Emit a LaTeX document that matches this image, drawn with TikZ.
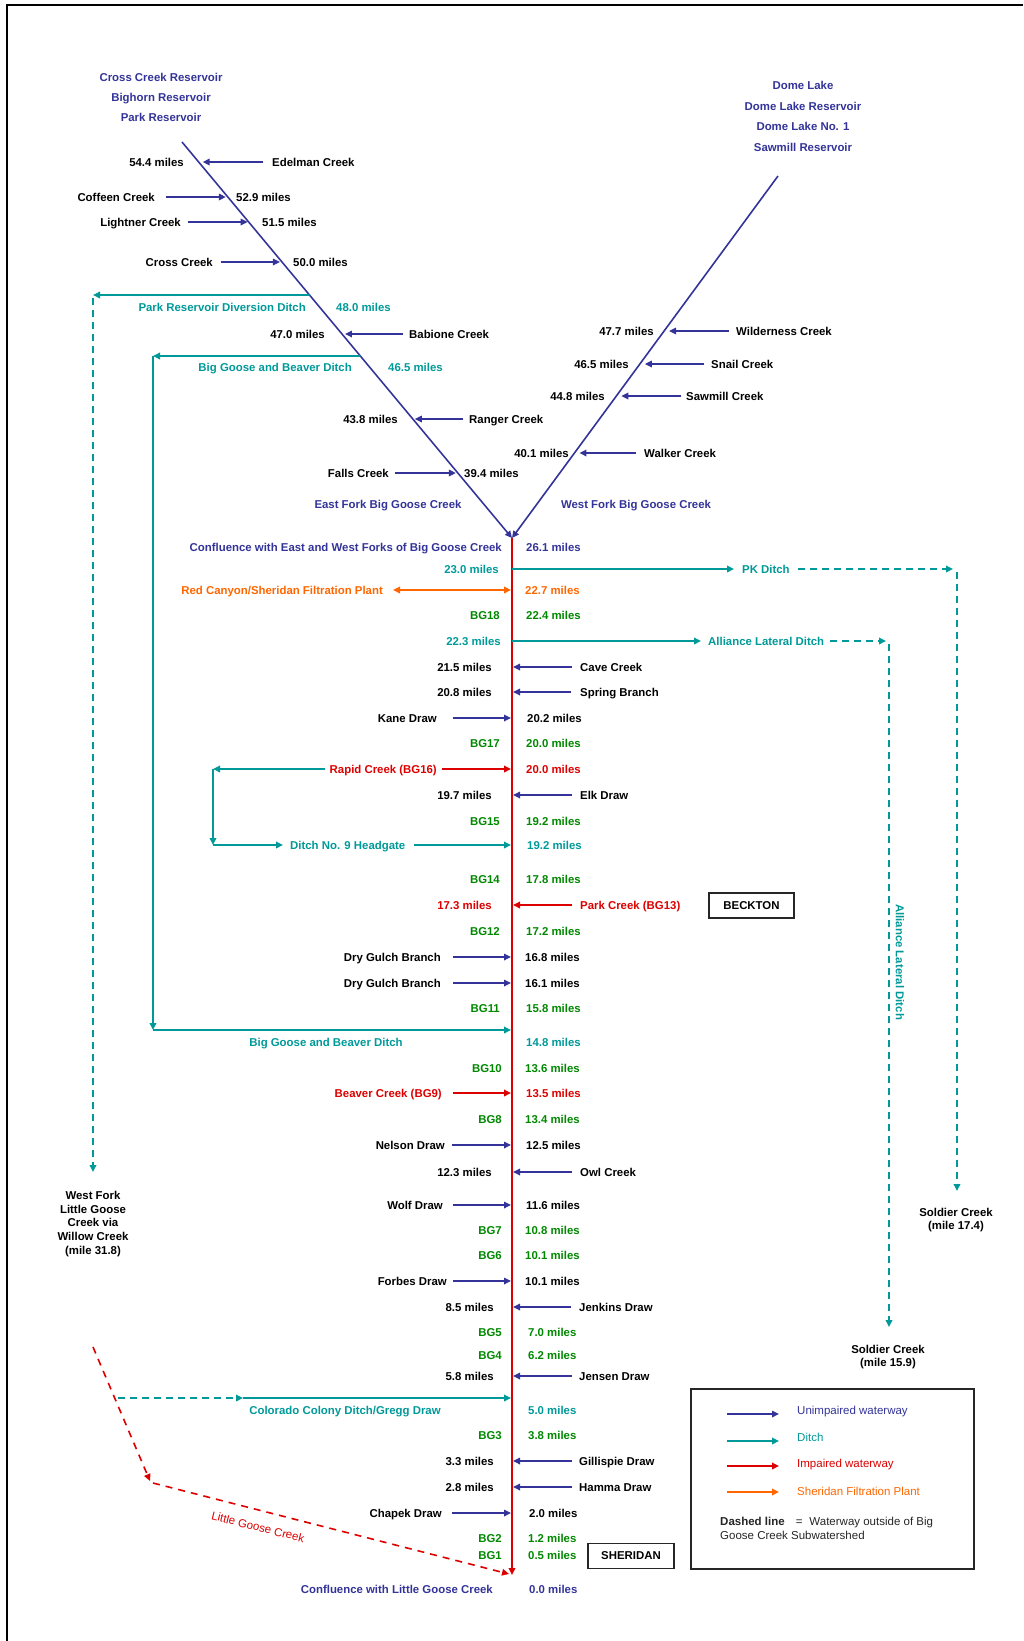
\documentclass[tikz,border=0pt]{standalone}
\usepackage{fontspec}
\setmainfont{Liberation Sans}
\usetikzlibrary{arrows.meta,calc}
\definecolor{rivblue}{RGB}{51,51,153}
\definecolor{ditchcol}{RGB}{0,153,153}
\definecolor{impred}{RGB}{221,0,0}
\definecolor{plantorg}{RGB}{255,102,0}
\definecolor{bggreen}{RGB}{0,136,0}
\newcommand\lblfont{\bfseries\fontsize{11.4}{13}\selectfont}
\newcommand\legfont{\fontsize{11.5}{13}\selectfont}
\begin{document}
\begin{tikzpicture}[x=1pt,y=-1pt,
  >={Triangle[length=7pt,width=6.5pt]},
  lab/.style={inner sep=0pt,font=\lblfont,text height=8.1pt,text depth=0pt},
  tblack/.style={lab,text=black},
  tblue/.style={lab,text=rivblue},
  tteal/.style={lab,text=ditchcol},
  tgreen/.style={lab,text=bggreen},
  tred/.style={lab,text=impred},
  torange/.style={lab,text=plantorg},
  river/.style={draw=rivblue,line width=1.6pt},
  trib/.style={river,->},
  ditchln/.style={draw=ditchcol,line width=1.8pt},
  ditch/.style={ditchln,->},
  ditchdash/.style={ditchln,->,dash pattern=on 7pt off 5pt},
  impaired/.style={draw=impred,line width=1.8pt,->},
  impdash/.style={draw=impred,line width=1.6pt,->,dash pattern=on 7pt off 6pt},
  plantln/.style={draw=plantorg,line width=1.8pt,<->},
  townbox/.style={draw=black!85,line width=1.3pt,inner sep=0pt,minimum height=25pt,font=\lblfont},
  multi/.style={inner sep=0pt,align=center,font=\bfseries\fontsize{11.4}{13.7}\selectfont},
]
\useasboundingbox (0,0) rectangle (1023,1641);
% frame
\coordinate (fbl) at (7,1641); \coordinate (ftl) at (7,5); \coordinate (ftr) at (1023,5);
\draw[line width=2pt] (fbl) -- (ftl) -- (ftr);

% headwater labels
\node[tblue] (r1) at (161,77) {Cross Creek Reservoir};
\node[tblue] (r2) at (161,97) {Bighorn Reservoir};
\node[tblue] (r3) at (161,117) {Park Reservoir};
\node[tblue] (d1) at (803,85) {Dome Lake};
\node[tblue] (d2) at (803,106) {Dome Lake Reservoir};
\node[tblue] (d3) at (803,126) {Dome Lake No. 1};
\node[tblue] (d4) at (803,147) {Sawmill Reservoir};

% forks
\coordinate (EFtop) at (182,142);
\coordinate (WFtop) at (778,176);
\coordinate (conf) at (512,538);
\coordinate (mend) at (512,1575);
\coordinate (ML) at (511,0);
\coordinate (MR) at (513,0);
\path (EFtop) -- (conf)
  coordinate[pos=0.0505] (e1) coordinate[pos=0.1389] (e2)
  coordinate[pos=0.2020] (e3) coordinate[pos=0.3030] (e4)
  coordinate[pos=0.3864] (e5) coordinate[pos=0.4848] (e6)
  coordinate[pos=0.5404] (e7) coordinate[pos=0.6995] (e8)
  coordinate[pos=0.8359] (e9);
\path (WFtop) -- (conf)
  coordinate[pos=0.4282] (w1) coordinate[pos=0.5193] (w2)
  coordinate[pos=0.6077] (w3) coordinate[pos=0.7652] (w4);

% main stem
\draw[impaired] (conf) -- (mend);
\draw[trib] (EFtop) -- (conf);
\draw[trib] (WFtop) -- (conf);

% East Fork
\node[tblack,anchor=west] (edel) at (272,162) {Edelman Creek};
\node[tblack,anchor=east] (m544) at (184,162) {54.4 miles};
\draw[trib,shorten >=4pt] ([xshift=-9pt]edel.west) -- (edel -| e1);
\node[tblack,anchor=east] (coff) at (155,197) {Coffeen Creek};
\node[tblack,anchor=west] (m529) at (236,197) {52.9 miles};
\draw[trib,shorten >=2pt] ([xshift=11pt]coff.east) -- (coff -| e2);
\node[tblack,anchor=east] (ligh) at (181,222) {Lightner Creek};
\node[tblack,anchor=west] (m515) at (262,222) {51.5 miles};
\draw[trib,shorten >=1pt] ([xshift=7pt]ligh.east) -- (ligh -| e3);
\node[tblack,anchor=east] (cros) at (213,262) {Cross Creek};
\node[tblack,anchor=west] (m500) at (293,262) {50.0 miles};
\draw[trib,shorten >=2pt] ([xshift=8pt]cros.east) -- (cros -| e4);
\node[tteal,anchor=east] (prdd) at (306,307) {Park Reservoir Diversion Ditch};
\node[tteal,anchor=west] (m480) at (336,307) {48.0 miles};
\coordinate (prddc) at (93,295);
\coordinate (prddt) at (93,1172);
\draw[ditch] (e5) -- (prddc);
\draw[ditchdash] ([yshift=-3pt]prddc) -- (prddt);
\node[tblack,anchor=west] (babi) at (409,334) {Babione Creek};
\node[tblack,anchor=east] (m470) at (325,334) {47.0 miles};
\draw[trib,shorten >=3pt] ([xshift=-6pt]babi.west) -- (babi -| e6);
\node[tteal,anchor=east] (bgbd1) at (352,367) {Big Goose and Beaver Ditch};
\node[tteal,anchor=west] (m465) at (388,367) {46.5 miles};
\coordinate (bgbdc) at (153,356);
\coordinate (bgbdd) at (153,1030);
\draw[ditch] (e7) -- (bgbdc);
\draw[ditch] (bgbdc) -- (bgbdd);
\draw[ditch] (bgbdd) -- (bgbdd -| ML);
\node[tblack,anchor=west] (rang) at (469,419) {Ranger Creek};
\node[tblack,anchor=east] (m438) at (398,419) {43.8 miles};
\draw[trib,shorten >=2pt] ([xshift=-6pt]rang.west) -- (rang -| e8);
\node[tblack,anchor=east] (fall) at (389,473) {Falls Creek};
\node[tblack,anchor=west] (m394) at (464,473) {39.4 miles};
\draw[trib,shorten >=2pt] ([xshift=6pt]fall.east) -- (fall -| e9);
\node[tblue] (efname) at (388,504) {East Fork Big Goose Creek};

% West Fork
\node[tblack,anchor=west] (wild) at (736,331) {Wilderness Creek};
\node[tblack,anchor=east] (m477) at (654,331) {47.7 miles};
\draw[trib,shorten >=5pt] ([xshift=-7pt]wild.west) -- (wild -| w1);
\node[tblack,anchor=west] (snai) at (711,364) {Snail Creek};
\node[tblack,anchor=east] (m465w) at (629,364) {46.5 miles};
\draw[trib,shorten >=5pt] ([xshift=-7pt]snai.west) -- (snai -| w2);
\node[tblack,anchor=west] (sawm) at (686,396) {Sawmill Creek};
\node[tblack,anchor=east] (m448) at (605,396) {44.8 miles};
\draw[trib,shorten >=5pt] ([xshift=-5pt]sawm.west) -- (sawm -| w3);
\node[tblack,anchor=west] (walk) at (644,453) {Walker Creek};
\node[tblack,anchor=east] (m401) at (569,453) {40.1 miles};
\draw[trib,shorten >=5pt] ([xshift=-8pt]walk.west) -- (walk -| w4);
\node[tblue] (wfname) at (636,504) {West Fork Big Goose Creek};

% Confluence
\node[tblue,anchor=east] (confl) at (502,547) {Confluence with East and West Forks of Big Goose Creek};
\node[tblue,anchor=west] (m261) at (526,547) {26.1 miles};

% PK Ditch
\node[tteal,anchor=east] (m230) at (499,569) {23.0 miles};
\node[tteal,anchor=west] (pk) at (742,569) {PK Ditch};
\coordinate (pkc) at (957,569);
\coordinate (pkt) at (957,1191);
\draw[ditch] (m230 -| conf) -- ([xshift=-8pt]pk.west);
\draw[ditchdash,shorten >=4pt] ([xshift=8pt]pk.east) -- (pkc);
\draw[ditchdash] ([yshift=-3pt]pkc) -- (pkt);
\node[multi] (sold1) at (956,1220) {Soldier Creek\\(mile 17.4)};

% Filtration plant
\node[torange,anchor=east] (rcsf) at (383,590) {Red Canyon/Sheridan Filtration Plant};
\node[torange,anchor=west] (m227) at (525,590) {22.7 miles};
\draw[plantln] ([xshift=10pt]rcsf.east) -- (rcsf -| ML);

\node[tgreen,anchor=east] (bg18) at (500,615) {BG18};
\node[tgreen,anchor=west] (m224) at (526,615) {22.4 miles};

% Alliance Lateral Ditch
\node[tteal,anchor=east] (m223) at (501,641) {22.3 miles};
\node[tteal,anchor=west] (ald) at (708,641) {Alliance Lateral Ditch};
\coordinate (aldc) at (889,641);
\coordinate (aldt) at (889,1327);
\draw[ditch] (m223 -| conf) -- ([xshift=-7pt]ald.west);
\draw[ditchdash,shorten >=3pt] ([xshift=6pt]ald.east) -- (aldc);
\draw[ditchdash] ([yshift=-3pt]aldc) -- (aldt);
\node[tteal,rotate=-90] (aldv) at (900,962) {Alliance Lateral Ditch};
\node[multi] (sold2) at (888,1357) {Soldier Creek\\(mile 15.9)};

% rows
\node[tblack,anchor=east] (m215) at (492,667) {21.5 miles};
\node[tblack,anchor=west] (cave) at (580,667) {Cave Creek};
\draw[trib] ([xshift=-8pt]cave.west) -- (cave -| MR);
\node[tblack,anchor=east] (m208) at (492,692) {20.8 miles};
\node[tblack,anchor=west] (spri) at (580,692) {Spring Branch};
\draw[trib] ([xshift=-9pt]spri.west) -- (spri -| MR);
\node[tblack,anchor=east] (kane) at (437,718) {Kane Draw};
\node[tblack,anchor=west] (m202) at (527,718) {20.2 miles};
\draw[trib] ([xshift=16pt]kane.east) -- (kane -| ML);
\node[tgreen,anchor=east] (bg17) at (500,743) {BG17};
\node[tgreen,anchor=west] (m200a) at (526,743) {20.0 miles};

% Rapid Creek and Ditch No. 9
\node[tred,anchor=east] (rapid) at (437,769) {Rapid Creek (BG16)};
\node[tred,anchor=west] (m200b) at (526,769) {20.0 miles};
\draw[impaired] ([xshift=5pt]rapid.east) -- (rapid -| ML);
\coordinate (rdc1) at (213,769);
\coordinate (rdc2) at (213,845);
\draw[ditch] ([xshift=-5pt]rapid.west) -- (rdc1);
\draw[ditch] (rdc1) -- (rdc2);
\node[tteal,anchor=west] (d9) at (290,845) {Ditch No. 9 Headgate};
\draw[ditch] (rdc2) -- ([xshift=-7pt]d9.west);
\draw[ditch] ([xshift=9pt]d9.east) -- (d9 -| ML);
\node[tteal,anchor=west] (m192b) at (527,845) {19.2 miles};

\node[tblack,anchor=east] (m197) at (492,795) {19.7 miles};
\node[tblack,anchor=west] (elk) at (580,795) {Elk Draw};
\draw[trib] ([xshift=-8pt]elk.west) -- (elk -| MR);
\node[tgreen,anchor=east] (bg15) at (500,821) {BG15};
\node[tgreen,anchor=west] (m192a) at (526,821) {19.2 miles};
\node[tgreen,anchor=east] (bg14) at (500,879) {BG14};
\node[tgreen,anchor=west] (m178) at (526,879) {17.8 miles};

\node[tred,anchor=east] (m173) at (492,905) {17.3 miles};
\node[tred,anchor=west] (park) at (580,905) {Park Creek (BG13)};
\draw[impaired] ([xshift=-8pt]park.west) -- (park -| MR);
\node[townbox,minimum width=85pt] (beck) at (751.5,905.5) {BECKTON};

\node[tgreen,anchor=east] (bg12) at (500,931) {BG12};
\node[tgreen,anchor=west] (m172) at (526,931) {17.2 miles};
\node[tblack,anchor=east] (dgb1) at (441,957) {Dry Gulch Branch};
\node[tblack,anchor=west] (m168) at (525,957) {16.8 miles};
\draw[trib] ([xshift=12pt]dgb1.east) -- (dgb1 -| ML);
\node[tblack,anchor=east] (dgb2) at (441,983) {Dry Gulch Branch};
\node[tblack,anchor=west] (m161) at (525,983) {16.1 miles};
\draw[trib] ([xshift=12pt]dgb2.east) -- (dgb2 -| ML);
\node[tgreen,anchor=east] (bg11) at (500,1008) {BG11};
\node[tgreen,anchor=west] (m158) at (526,1008) {15.8 miles};

\node[tteal] (bgbd2) at (326,1042) {Big Goose and Beaver Ditch};
\node[tteal,anchor=west] (m148) at (526,1042) {14.8 miles};

\node[tgreen,anchor=east] (bg10) at (502,1068) {BG10};
\node[tgreen,anchor=west] (m136) at (525,1068) {13.6 miles};
\node[tred,anchor=east] (beav) at (442,1093) {Beaver Creek (BG9)};
\node[tred,anchor=west] (m135) at (526,1093) {13.5 miles};
\draw[impaired] ([xshift=11pt]beav.east) -- (beav -| ML);
\node[tgreen,anchor=east] (bg8) at (502,1119) {BG8};
\node[tgreen,anchor=west] (m134) at (525,1119) {13.4 miles};
\node[tblack,anchor=east] (nels) at (445,1145) {Nelson Draw};
\node[tblack,anchor=west] (m125) at (526,1145) {12.5 miles};
\draw[trib] ([xshift=7pt]nels.east) -- (nels -| ML);
\node[tblack,anchor=east] (m123) at (492,1172) {12.3 miles};
\node[tblack,anchor=west] (owl) at (580,1172) {Owl Creek};
\draw[trib] ([xshift=-8pt]owl.west) -- (owl -| MR);
\node[tblack,anchor=east] (wolf) at (443,1205) {Wolf Draw};
\node[tblack,anchor=west] (m116) at (526,1205) {11.6 miles};
\draw[trib] ([xshift=10pt]wolf.east) -- (wolf -| ML);
\node[tgreen,anchor=east] (bg7) at (502,1230) {BG7};
\node[tgreen,anchor=west] (m108) at (525,1230) {10.8 miles};
\node[tgreen,anchor=east] (bg6) at (502,1255) {BG6};
\node[tgreen,anchor=west] (m101a) at (525,1255) {10.1 miles};
\node[tblack,anchor=east] (forb) at (447,1281) {Forbes Draw};
\node[tblack,anchor=west] (m101b) at (525,1281) {10.1 miles};
\draw[trib] ([xshift=6pt]forb.east) -- (forb -| ML);
\node[tblack,anchor=east] (m85) at (494,1307) {8.5 miles};
\node[tblack,anchor=west] (jenk) at (579,1307) {Jenkins Draw};
\draw[trib] ([xshift=-8pt]jenk.west) -- (jenk -| MR);
\node[tgreen,anchor=east] (bg5) at (502,1332) {BG5};
\node[tgreen,anchor=west] (m70) at (528,1332) {7.0 miles};
\node[tgreen,anchor=east] (bg4) at (502,1355) {BG4};
\node[tgreen,anchor=west] (m62) at (528,1355) {6.2 miles};
\node[tblack,anchor=east] (m58) at (494,1376) {5.8 miles};
\node[tblack,anchor=west] (jens) at (579,1376) {Jensen Draw};
\draw[trib] ([xshift=-7pt]jens.west) -- (jens -| MR);

% West Fork Little Goose
\node[multi] (wflg) at (93,1224) {West Fork\\Little Goose\\Creek via\\Willow Creek\\(mile 31.8)};

% Little Goose Creek and Colorado Colony Ditch
\coordinate (lg0) at (93,1347);
\coordinate (lg1) at (150,1481);
\coordinate (lgend) at (509,1574);
\path (lg0) -- (lg1) coordinate[pos=0.43] (cc0);
\coordinate (cc1) at (243,1398);
\draw[ditchdash] (cc0 |- cc1) -- (cc1);
\draw[ditch] (cc1) -- (cc1 -| ML);
\draw[impdash] (lg0) -- (lg1);
\draw[impdash] ([xshift=3pt,yshift=-2pt]lg1) -- (lgend);
\node[lab,font=\legfont,text=impred,rotate=-14] (lgc) at (258,1527) {Little Goose Creek};
\node[tteal] (ccd) at (345,1410) {Colorado Colony Ditch/Gregg Draw};
\node[tteal,anchor=west] (m50) at (528,1410) {5.0 miles};

\node[tgreen,anchor=east] (bg3) at (502,1435) {BG3};
\node[tgreen,anchor=west] (m38) at (528,1435) {3.8 miles};
\node[tblack,anchor=east] (m33) at (494,1461) {3.3 miles};
\node[tblack,anchor=west] (gill) at (579,1461) {Gillispie Draw};
\draw[trib] ([xshift=-7pt]gill.west) -- (gill -| MR);
\node[tblack,anchor=east] (m28) at (494,1487) {2.8 miles};
\node[tblack,anchor=west] (hamm) at (579,1487) {Hamma Draw};
\draw[trib] ([xshift=-7pt]hamm.west) -- (hamm -| MR);
\node[tblack,anchor=east] (chap) at (442,1513) {Chapek Draw};
\node[tblack,anchor=west] (m20) at (529,1513) {2.0 miles};
\draw[trib] ([xshift=10pt]chap.east) -- (chap -| ML);
\node[tgreen,anchor=east] (bg2) at (502,1538) {BG2};
\node[tgreen,anchor=west] (m12) at (528,1538) {1.2 miles};
\node[tgreen,anchor=east] (bg1) at (502,1555) {BG1};
\node[tgreen,anchor=west] (m05) at (528,1555) {0.5 miles};
\node[townbox,minimum width=86pt] (sher) at (631,1556) {SHERIDAN};
\node[tblue,anchor=east] (conflg) at (493,1589) {Confluence with Little Goose Creek};
\node[tblue,anchor=west] (m00) at (529,1589) {0.0 miles};

% Legend
\node[draw=black!85,line width=1.1pt,minimum width=283pt,minimum height=180pt,inner sep=0pt] (legend) at (832.5,1479) {};
\node[lab,font=\legfont,text=rivblue,anchor=west] (l1) at (797,1410) {Unimpaired waterway};
\node[lab,font=\legfont,text=ditchcol,anchor=west] (l2) at (797,1437) {Ditch};
\node[lab,font=\legfont,text=impred,anchor=west] (l3) at (797,1463) {Impaired waterway};
\node[lab,font=\legfont,text=plantorg,anchor=west] (l4) at (797,1491) {Sheridan Filtration Plant};
\draw[trib] ([xshift=-70pt,yshift=-4pt]l1.west) -- ([xshift=-18pt,yshift=-4pt]l1.west);
\draw[ditch] ([xshift=-70pt,yshift=-4pt]l2.west) -- ([xshift=-18pt,yshift=-4pt]l2.west);
\draw[impaired] ([xshift=-70pt,yshift=-3pt]l3.west) -- ([xshift=-18pt,yshift=-3pt]l3.west);
\draw[draw=plantorg,line width=1.8pt,->] ([xshift=-70pt,yshift=-1pt]l4.west) -- ([xshift=-18pt,yshift=-1pt]l4.west);
\node[lab,font=\legfont,text=black!85,anchor=west] (dl1) at (720,1521) {\textbf{Dashed line}\hspace{11pt}=\hspace{7pt}Waterway outside of Big};
\node[lab,font=\legfont,text=black!85,anchor=west] (dl2) at (720,1535) {Goose Creek Subwatershed};
\end{tikzpicture}
\end{document}
